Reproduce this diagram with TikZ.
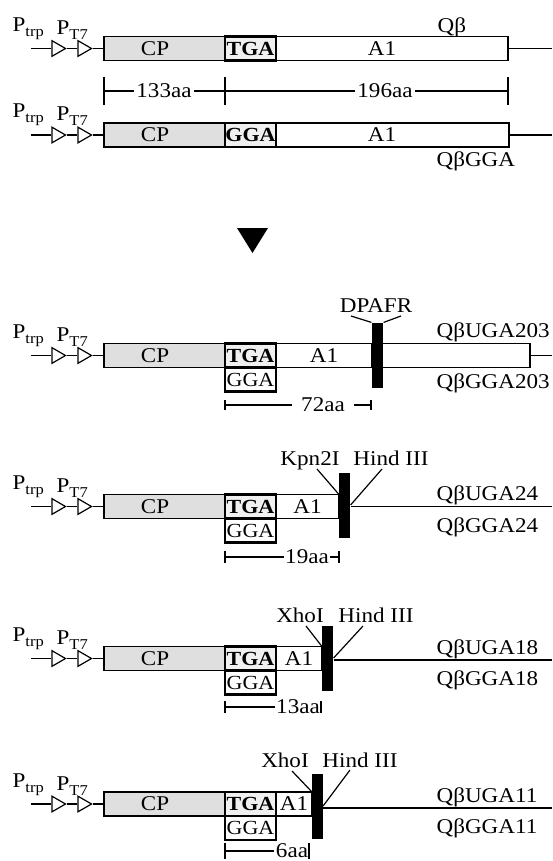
\documentclass[tikz,border=0pt]{standalone}
\usepackage{fontspec}
\setmainfont[FakeStretch=1.1]{Liberation Serif}
\usetikzlibrary{shapes.geometric, positioning}

\newcommand{\boxfont}{\fontsize{21}{21}\selectfont}
\newcommand{\codonfont}{\fontsize{20}{20}\selectfont}
\newcommand{\lblfont}{\fontsize{21}{21}\selectfont}
\newcommand{\lowsub}[1]{\raisebox{-5pt}{\fontsize{15}{15}\selectfont #1}}

\begin{document}
\begin{tikzpicture}[x=1pt, y=-1pt, line width=1.2pt,
    seg/.style={draw, line width=1.3pt, minimum height=24pt, inner sep=0pt, outer sep=0pt, anchor=west, font=\boxfont},
    cp/.style={seg, fill=gray!25, minimum width=121pt},
    codon/.style={seg, line width=2.2pt, minimum width=51pt, fill=gray!12, font=\codonfont\bfseries},
    lowcodon/.style={codon, fill=white, font=\codonfont},
    boxtxt/.style={font=\boxfont, inner sep=0pt},
    prom/.style={draw, regular polygon, regular polygon sides=3, shape border rotate=-90, minimum size=18pt, inner sep=0pt, fill=white},
    site/.style={fill=black, minimum width=11pt, minimum height=65pt, inner sep=0pt},
    lbl/.style={font=\lblfont, inner sep=0pt},
    dimlbl/.style={font=\lblfont, inner sep=2pt}]

    \useasboundingbox (0,0) rectangle (552,861);

    % promoters and CP of every construct
    \foreach \n/\y in {1/48.5, 2/135, 3/355.5, 4/506.5, 5/658.5, 6/804}{
        \node[cp] (cp\n) at (104,\y) {};
        \node[boxtxt] (cpt\n) at (155,\y) {CP};
        \coordinate (s\n) at (31,\y);
        \node[prom] (ta\n) at (56.5,\y) {};
        \node[prom] (tb\n) at (82.5,\y) {};
        \node[lbl, anchor=base west] (ptrp\n) at (12,\y-17) {P\lowsub{trp}};
        \node[lbl, anchor=base west] (pt\n) at (56,\y-14) {P\lowsub{T7}};
        \draw (s\n) -- (ta\n) -- (tb\n) -- (cp\n);
    }

    % Q beta
    \node[seg, minimum width=232pt] (a1) at (276,48.5) {};
    \node[boxtxt] (a1t) at (382,48.5) {A1};
    \node[codon] (tga1) at (225,48.5) {TGA};
    \coordinate (e1) at (552,48.5);
    \draw (a1) -- (e1);
    \node[lbl, anchor=base west] (q1) at (437,33) {Qβ};

    \coordinate (d1a) at (104,91);
    \coordinate (d1b) at (225,91);
    \coordinate (d1c) at (508,91);
    \node[dimlbl] (l133) at (164,91) {133aa};
    \node[dimlbl] (l196) at (385,91) {196aa};
    \draw (d1a) -- (l133) -- (d1b) -- (l196) -- (d1c);
    \draw ([yshift=14pt]d1a) -- ([yshift=-14pt]d1a);
    \draw ([yshift=14pt]d1b) -- ([yshift=-14pt]d1b);
    \draw ([yshift=14pt]d1c) -- ([yshift=-14pt]d1c);

    % Q beta GGA
    \node[seg, minimum width=233pt] (a2) at (276,135) {};
    \node[boxtxt] (a2t) at (382,135) {A1};
    \node[codon] (gga2) at (225,135) {GGA};
    \coordinate (e2) at (552,135);
    \draw (a2) -- (e2);
    \node[lbl, anchor=base west] (q2) at (436,167) {QβGGA};

    \fill (237,228) -- (268,228) -- (252.5,253) -- cycle;

    % 203
    \node[seg, minimum width=96pt] (a3) at (276,355.5) {A1};
    \node[seg, minimum width=158pt] (tail3) at (372,355.5) {};
    \node[codon] (tga3) at (225,355.5) {TGA};
    \node[lowcodon, below=0pt of tga3] (gga3) {GGA};
    \node[site] (bar3) at (377.5,355.5) {};
    \coordinate (e3) at (552,355.5);
    \draw (tail3) -- (e3);
    \node[lbl, anchor=base] (dpafr) at (376,312) {DPAFR};
    \coordinate (dp1) at (351,316);
    \coordinate (dp2) at (401,316);
    \draw (dp1) -- (bar3.north west);
    \draw (dp2) -- (bar3.north east);
    \node[lbl, anchor=base west] (qu3) at (436,337) {QβUGA203};
    \node[lbl, anchor=base west] (qg3) at (436,388) {QβGGA203};
    \coordinate (d3a) at (225,405);
    \coordinate (d3b) at (371,405);
    \node[dimlbl, inner xsep=9pt] (l72) at (323,405) {72aa};
    \draw (d3a) -- (l72) -- (d3b);
    \draw ([yshift=5pt]d3a) -- ([yshift=-5pt]d3a);
    \draw ([yshift=5pt]d3b) -- ([yshift=-5pt]d3b);

    % 24
    \node[seg, minimum width=63pt] (a4) at (276,506.5) {A1};
    \node[codon] (tga4) at (225,506.5) {TGA};
    \node[lowcodon, below=0pt of tga4] (gga4) {GGA};
    \node[site] (bar4) at (344.5,505) {};
    \coordinate (e4) at (552,506.5);
    \draw (bar4.east |- e4) -- (e4);
    \node[lbl, anchor=base] (kpn4) at (310,465) {Kpn2I};
    \node[lbl, anchor=base] (hind4) at (391,465) {Hind III};
    \coordinate (kp4) at (317,469);
    \coordinate (hd4) at (382,469);
    \draw (kp4) -- (a4.north east);
    \draw (hd4) -- (bar4.east);
    \node[lbl, anchor=base west] (qu4) at (436,500) {QβUGA24};
    \node[lbl, anchor=base west] (qg4) at (436,532) {QβGGA24};
    \coordinate (d4a) at (225,557);
    \coordinate (d4b) at (339,557);
    \node[dimlbl, inner sep=1pt] (l19) at (307,557) {19aa};
    \draw (d4a) -- (l19) -- (d4b);
    \draw ([yshift=6pt]d4a) -- ([yshift=-6pt]d4a);
    \draw ([yshift=6pt]d4b) -- ([yshift=-6pt]d4b);

    % 18
    \node[seg, minimum width=46pt] (a5) at (276,658.5) {A1};
    \node[codon] (tga5) at (225,658.5) {TGA};
    \node[lowcodon, below=0pt of tga5] (gga5) {GGA};
    \node[site] (bar5) at (327.5,658) {};
    \coordinate (e5) at (552,660);
    \draw (bar5.east |- e5) -- (e5);
    \node[lbl, anchor=base] (xho5) at (300,622) {XhoI};
    \node[lbl, anchor=base] (hind5) at (376,622) {Hind III};
    \coordinate (xh5) at (306,626);
    \coordinate (hd5) at (363,626);
    \draw (xh5) -- (a5.north east);
    \draw (hd5) -- (bar5.east);
    \node[lbl, anchor=base west] (qu5) at (436,654) {QβUGA18};
    \node[lbl, anchor=base west] (qg5) at (436,685) {QβGGA18};
    \coordinate (d5a) at (225,707);
    \coordinate (d5b) at (321,707);
    \node[dimlbl, inner sep=1pt] (l13) at (298,707) {13aa};
    \draw (d5a) -- (l13) -- (d5b);
    \draw ([yshift=6pt]d5a) -- ([yshift=-6pt]d5a);
    \draw ([yshift=6pt]d5b) -- ([yshift=-6pt]d5b);

    % 11
    \node[seg, minimum width=36pt] (a6) at (276,804) {A1};
    \node[codon] (tga6) at (225,804) {TGA};
    \node[lowcodon, below=0pt of tga6] (gga6) {GGA};
    \node[site] (bar6) at (317,806) {};
    \coordinate (e6) at (552,808);
    \draw (bar6.east |- e6) -- (e6);
    \node[lbl, anchor=base] (xho6) at (285,767) {XhoI};
    \node[lbl, anchor=base] (hind6) at (360,767) {Hind III};
    \coordinate (xh6) at (292,771);
    \coordinate (hd6) at (350,770);
    \draw (xh6) -- (a6.north east);
    \draw (hd6) -- (bar6.east);
    \node[lbl, anchor=base west] (qu6) at (436,802) {QβUGA11};
    \node[lbl, anchor=base west] (qg6) at (436,833) {QβGGA11};
    \coordinate (d6a) at (225,851);
    \coordinate (d6b) at (309,851);
    \node[dimlbl, inner sep=1pt] (l6) at (292,851) {6aa};
    \draw (d6a) -- (l6) -- (d6b);
    \draw ([yshift=8pt]d6a) -- ([yshift=-8pt]d6a);
    \draw ([yshift=8pt]d6b) -- ([yshift=-8pt]d6b);

\end{tikzpicture}
\end{document}
